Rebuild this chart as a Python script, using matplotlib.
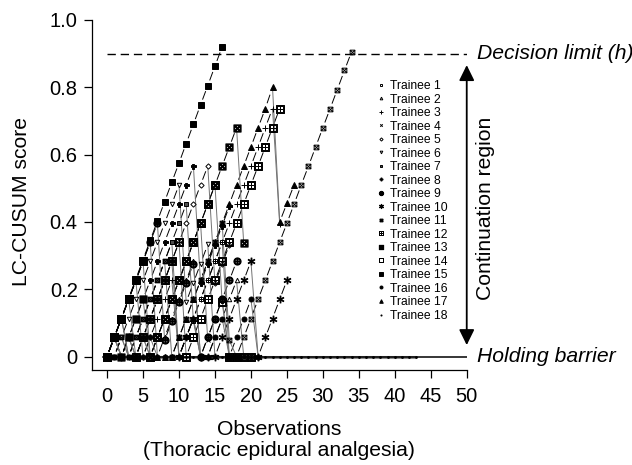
import matplotlib
matplotlib.use("Agg")
import matplotlib.pyplot as plt
import numpy as np
from matplotlib.collections import LineCollection
from matplotlib.path import Path

plt.rcParams['font.family'] = ['Liberation Sans', 'DejaVu Sans']
plt.rcParams['lines.scale_dashes'] = False

t1 = [0, 0, .057, 0, .057, .113, .17, .226, .283, .34, 0, .057, .113, .17, .226, .283, .34, 0, 0, 0, 0]
t2 = [0, .057, .113, 0, 0, .057, 0, 0, .057, .113, .17, .226, .283, 0, 0, .057, .113, .17, .226, 0]
t3 = [0, .057, .113, .17, .226, 0, .057, .113, .17, .226, 0, .057, .113, .17, .226, .283, .34, .396,
      .453, .51, .566, .623, .68, .737, .393]
t4 = [0, .057, 0, .057, 0, .057, 0, .057, .113, .17, .226, .283, .34, .396, .048]
t5 = [0, .057, .113, 0, 0, .057, .113, .17, .226, .283, .34, .396, .453, .51, .566, .218, .275, .332]
t6 = [0, 0, .057, .113, .17, .226, .283, .34, .396, .453, .51, .162, .219, .276, .333, 0]
t7 = [0, .057, 0, 0, .057, .113, .17, .226, .283, .34, .396, .453, .105, 0, .057, .113, .17, 0]
t8 = [0, .057, 0, .057, .113, .17, .226, .283, .34, .396, .453, .51, .566, .218, .275, .332, .389, .446]
t9 = [0, .057, .113, .17, .226, .283, .34, .396, .048, .105, .162, .219, .276, 0, .057, .113, .17, .226, .283]
t10 = [0, .057, 0, .057, 0, .057, .113, .17, .226, .283, 0, .057, .113, 0, 0, 0, .057, .113, .17, .226,
       .283, 0, .057, .113, .17, .226]
t11 = [0, 0, .057, 0, .057, .113, .17, .226, .283, 0, .057, .113, .17, .226, .283, .34, .396, .048, 0,
       .057, .113, .17, .226, .283, .34, .396, .453, .51, .566, .623, .68, .736, .793, .85, .906]
t12 = [0, .057, .113, .17, 0, .057, .113, .17, .226, .283, .34, 0, .057, .113, .17, .226, .283, .34,
       .396, .453, .51, .566, .623, .68, .737]
t13 = [0, .057, 0, .057, .113, .17, 0, .057, .113, .17, .226, .283, .34, .396, .453, .51, .566, .623, .68, .336]
t14 = [0, .057, .113, .17, .226, .283, 0, .057, .113, .17, .226, .283, .34, .396, .453, .51, .162, 0, 0, 0, 0]
t15 = [0, .058, .115, .173, .23, .288, .345, .403, .46, .518, .575, .633, .69, .748, .805, .863, .92]
t16 = [0, 0, 0, .057, 0, 0, .057, 0, 0, 0, 0, .057, .113, 0, 0, .057, .113, 0, .057, .113, .17, 0]
t17 = [0, .057, .113, .17, .226, .283, .34, 0, 0, 0, .057, .113, .17, .226, .283, .34, .396, .453, .51,
       .566, .623, .68, .737, .8, .4, .455, .51]
t18 = [0, .057, 0, 0, 0, 0, 0, 0, 0, 0, 0, 0, 0, 0, 0, 0, 0, 0, 0, 0, 0, 0, 0, 0, 0, 0, 0, 0, 0, 0,
       0, 0, 0, 0, 0, 0, 0, 0, 0, 0, 0, 0, 0, 0]

scores = [t1, t2, t3, t4, t5, t6, t7, t8, t9, t10, t11, t12, t13, t14, t15, t16, t17, t18]
names = ['Trainee %d' % i for i in range(1, 19)]

decision_limit = 0.9

# hourglass inside a box, like the SPSS symbol
hourglass = Path([(-1, 1), (1, 1), (-1, -1), (1, -1), (-1, 1),
                  (-1, -1), (-1, 1), (1, -1), (1, 1)],
                 [Path.MOVETO, Path.LINETO, Path.LINETO, Path.LINETO, Path.CLOSEPOLY,
                  Path.MOVETO, Path.LINETO, Path.MOVETO, Path.LINETO])

# marker, size, face colour
marker_styles = [
    ('s', 2.8, 'white'),
    ('^', 3.2, 'white'),
    ('+', 4.5, 'black'),
    ('x', 3.0, 'black'),
    ('D', 2.7, 'white'),
    ('v', 3.2, 'white'),
    ('s', 3.2, '0.3'),
    ('P', 3.6, 'black'),
    (r'$\oplus$', 5.2, 'black'),
    (r'$*$', 5.0, 'black'),
    (hourglass, 3.4, 'none'),
    (r'$\boxplus$', 5.2, 'black'),
    (r'$\boxtimes$', 5.2, 'black'),
    (r'$\boxdot$', 5.2, 'black'),
    ('s', 4.0, 'black'),
    ('o', 3.6, 'black'),
    ('^', 4.3, 'black'),
    ('.', 2.6, 'black'),
]

fig = plt.figure(figsize=(6.32, 4.65), dpi=100)
ax = fig.add_axes([0.1456, 0.2043, 0.5929, 0.7527])

# split each trajectory into rising, falling and flat pieces
up_segs, down_segs, flat_segs = [], [], []
for y in scores:
    pts = np.column_stack([np.arange(len(y)), y])
    for p0, p1 in zip(pts[:-1], pts[1:]):
        if p1[1] > p0[1]:
            up_segs.append([p0, p1])
        elif p1[1] < p0[1]:
            down_segs.append([p0, p1])
        else:
            flat_segs.append([p0, p1])

ax.add_collection(LineCollection(up_segs, colors='black', linewidths=0.7,
                                 linestyles=[(10.8, (6.5, 8.3))], zorder=2))
ax.add_collection(LineCollection(down_segs, colors='0.45', linewidths=0.7, zorder=2))
ax.add_collection(LineCollection(flat_segs, colors='0.55', linewidths=2.2, zorder=1))

handles = []
for y, name, (m, ms, fc) in zip(scores, names, marker_styles):
    h, = ax.plot(np.arange(len(y)), y, linestyle='none', marker=m, ms=ms,
                 mfc=fc, mec='black', mew=0.7, label=name, zorder=3)
    handles.append(h)

# decision limit and holding barrier
ax.plot([0, 50], [decision_limit, decision_limit], color='black', lw=1.0,
        linestyle=(0, (6, 3.5)), zorder=2)
ax.plot([-0.5, 50], [0, 0], color='black', lw=1.1, zorder=2.5)

ax.annotate('', xy=(50, 0.034), xytext=(50, 0.866),
            arrowprops=dict(arrowstyle='<|-|>,head_length=0.67,head_width=0.33',
                            color='black', lw=1.3, mutation_scale=14,
                            shrinkA=0, shrinkB=0),
            annotation_clip=False)

ax.text(51.4, decision_limit, 'Decision limit (h)', style='italic', fontsize=15.2,
        ha='left', va='center', clip_on=False)
ax.text(51.4, 0, 'Holding barrier', style='italic', fontsize=15.2,
        ha='left', va='center', clip_on=False)
ax.text(52.6, 0.441, 'Continuation region', rotation=90, fontsize=15.2,
        ha='center', va='center', clip_on=False)

ax.set_xlim(-2.09, 50)
ax.set_ylim(-0.04, 1.0)
ax.set_xticks(range(0, 51, 5))
ax.set_yticks([0, 0.2, 0.4, 0.6, 0.8, 1.0])
ax.set_yticklabels(['0', '0.2', '0.4', '0.6', '0.8', '1.0'])
ax.tick_params(direction='out', length=5.5, width=0.9, labelsize=14.5)
ax.tick_params(axis='x', pad=6.5)
ax.tick_params(axis='y', pad=4.8)
for side in ['top', 'right']:
    ax.spines[side].set_visible(False)
for side in ['left', 'bottom']:
    ax.spines[side].set_linewidth(0.9)

ax.set_ylabel('LC-CUSUM score', fontsize=15.2)
ax.yaxis.set_label_coords(-0.163, 0.48)
ax.set_xlabel('Observations\n(Thoracic epidural analgesia)', fontsize=15.2, linespacing=1.1)
ax.xaxis.set_label_coords(0.5, -0.143)

ax.legend(handles=handles, loc='upper left', bbox_to_anchor=(0.7585, 0.8284),
          frameon=False, fontsize=8.7, markerscale=0.6, handlelength=0.8,
          handletextpad=0.3, labelspacing=0.125, borderpad=0, borderaxespad=0)

fig.savefig('out.png', dpi=100)
